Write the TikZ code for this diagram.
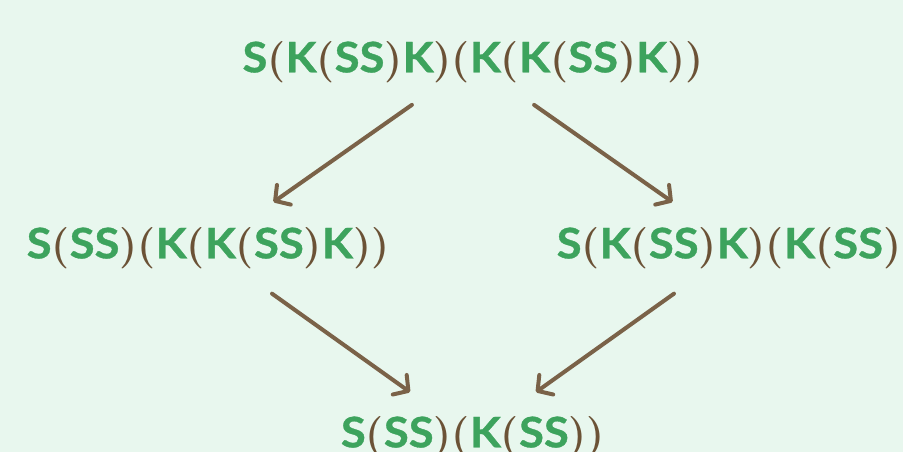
\documentclass[tikz,border=0pt]{standalone}
\usepackage{fontspec}
\newfontfamily\letfont{Lato}[BoldFeatures={FakeBold=0.8,FakeStretch=1.08}]
\usetikzlibrary{arrows.meta}
\definecolor{bg}{RGB}{232,247,238}
\definecolor{gr}{RGB}{61,163,93}
\definecolor{pc}{RGB}{107,82,54}
\definecolor{ac}{RGB}{122,98,72}
\newcommand\PL{{\color{pc}\normalfont\bfseries\fontsize{31}{32}\selectfont(}}
\newcommand\PR{{\color{pc}\normalfont\bfseries\fontsize{31}{32}\selectfont)}}
\tikzset{
  term/.style={inner sep=0pt, anchor=center, font=\letfont\bfseries\fontsize{31.5}{36}\selectfont, text=gr},
  arr/.style={draw=ac, line width=3pt, line cap=round, -{Straight Barb[length=8pt,width=18pt,line width=3pt,round]}}
}
\begin{document}
\begin{tikzpicture}[x=0.75pt,y=-0.75pt]
\fill[bg] (0,0) rectangle (903,452);
\useasboundingbox (0,0) rectangle (903,452);
\clip (0,0) rectangle (903,452);
\node[term] (top) at (473,62) {S\PL K\PL SS\PR K\PR\PL K\PL K\PL SS\PR K\PR\PR};
\node[term] (left) at (208,248) {S\PL SS\PR\PL K\PL K\PL SS\PR K\PR\PR};
\node[term] (right) at (738,248) {S\PL K\PL SS\PR K\PR\PL K\PL SS\PR\PR};
\node[term] (bot) at (473,437) {S\PL SS\PR\PL K\PL SS\PR\PR};
\draw[arr, shorten <=56pt, shorten >=60pt] (top.center) -- (left.center);
\draw[arr, shorten <=56pt, shorten >=60pt] (top.center) -- (right.center);
\draw[arr, shorten <=59pt, shorten >=58pt] (left.center) -- (bot.center);
\draw[arr, shorten <=59pt, shorten >=58pt] (right.center) -- (bot.center);
\end{tikzpicture}
\end{document}
